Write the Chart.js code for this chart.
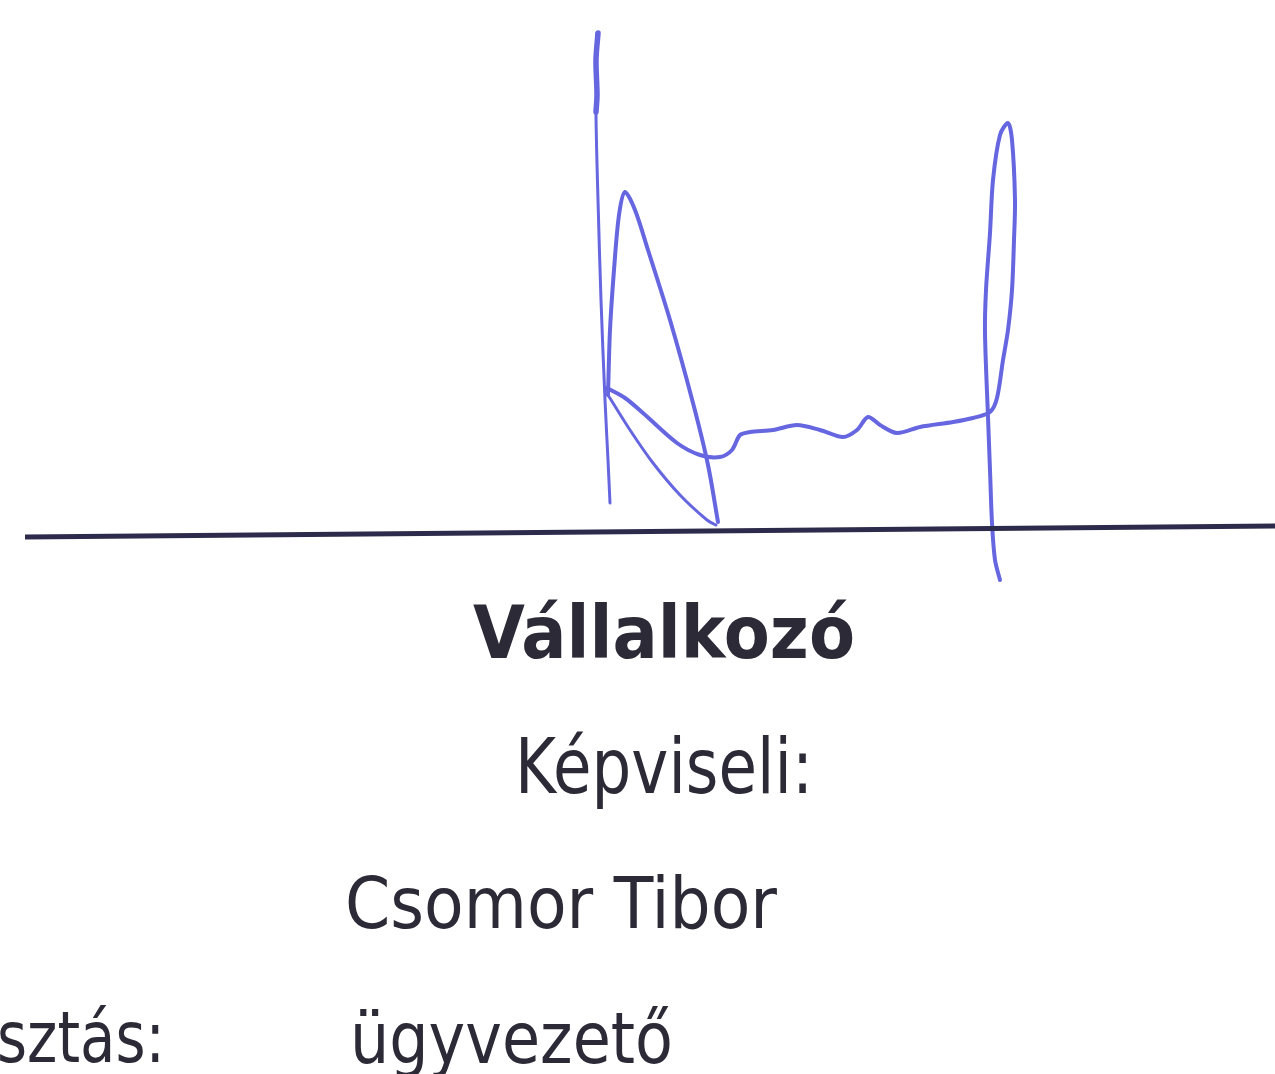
<!DOCTYPE html>
<html>
<head>
<meta charset="utf-8">
<script src="https://cdn.jsdelivr.net/npm/chart.js@4/dist/chart.umd.min.js"></script>
<style>
  html, body { margin: 0; padding: 0; background: #ffffff; overflow: hidden; }
  #wrap { position: relative; width: 1275px; height: 1074px; }
  #c { position: absolute; left: 0; top: 0; }
  .t { position: absolute; white-space: nowrap; line-height: 1; color: #2b2a36;
       font-family: "DejaVu Sans", Verdana, sans-serif; transform-origin: 0 0; }
</style>
</head>
<body>
<div id="wrap">
  <canvas id="c" width="1275" height="1074"></canvas>
</div>
<script>
// ---- data (page coordinates) ----
const signatureLine = [{x:25,y:537},{x:1275,y:526}];
const strokeStem = [{x:597,y:33},{x:596,y:60},{x:597,y:95},{x:596,y:115},{x:598,y:200},{x:601,y:300},{x:605,y:400},{x:608,y:460},{x:610,y:503}];
const strokeStemTop = [{x:598,y:33},{x:596,y:60},{x:597,y:95},{x:596,y:112}];
const strokePeak = [{x:608,y:395},{x:610,y:330},{x:614,y:270},{x:619,y:215},{x:625,y:192},{x:635,y:210},{x:648,y:250},{x:670,y:320},{x:693,y:403},{x:708,y:465},{x:718,y:522}];
const strokeDiagonal = [{x:608,y:395},{x:630,y:430},{x:653,y:463},{x:680,y:495},{x:707,y:520},{x:716,y:525}];
const strokeWave = [{x:607,y:388},{x:625,y:398},{x:643,y:413},{x:677,y:443},{x:700,y:455},{x:720,y:457},{x:732,y:450},{x:740,y:435},{x:750,y:432},{x:773,y:430},{x:797,y:425},{x:820,y:430},{x:843,y:437},{x:857,y:430},{x:868,y:417},{x:880,y:425},{x:897,y:433},{x:920,y:427},{x:953,y:422},{x:973,y:418},{x:990,y:412},{x:997,y:398},{x:1003,y:360},{x:1008,y:330},{x:1012,y:290},{x:1014,y:240},{x:1015,y:200},{x:1012,y:140},{x:1008,y:123},{x:1000,y:135},{x:993,y:180},{x:990,y:233},{x:986,y:290},{x:985,y:333},{x:988,y:417},{x:990,y:470},{x:992,y:523},{x:995,y:560},{x:1000,y:580}];

const labels = ["Vállalkozó", "Képviseli:", "Csomor Tibor", "sztás:", "ügyvezető"];
const labelBold = [true, false, false, false, false];

// ---- layout of the text (style, not data) ----
const labelLayout = [
  {x:473, base:658, w:382, size:73},
  {x:515, base:793, w:298, size:76},
  {x:345, base:928, w:432, size:72},
  {x:-3,  base:1062, w:168, size:72},
  {x:350, base:1063, w:323, size:72}
];

const ink = '#6666e0';
const sig = (data, width) => ({
  data, showLine: true, borderColor: ink, borderWidth: width,
  pointRadius: 0, tension: 0.3, fill: false, borderCapStyle: 'round', borderJoinStyle: 'round'
});

new Chart(document.getElementById('c'), {
  type: 'scatter',
  data: {
    datasets: [
      {data: signatureLine, showLine: true, borderColor: '#2d2b4c', borderWidth: 5, pointRadius: 0, tension: 0},
      sig(strokeStem, 3),
      sig(strokeStemTop, 5.5),
      sig(strokePeak, 4),
      sig(strokeDiagonal, 3),
      sig(strokeWave, 4)
    ]
  },
  options: {
    responsive: false,
    animation: false,
    devicePixelRatio: 1,
    layout: {padding: 0},
    plugins: {legend: {display: false}, tooltip: {enabled: false}},
    scales: {
      x: {type: 'linear', min: 0, max: 1275, display: false},
      y: {type: 'linear', min: 0, max: 1074, reverse: true, display: false}
    }
  }
});

const wrap = document.getElementById('wrap');
labels.forEach((txt, i) => {
  const L = labelLayout[i];
  const el = document.createElement('div');
  el.className = 't';
  el.textContent = txt;
  el.style.fontSize = L.size + 'px';
  el.style.fontWeight = labelBold[i] ? 'bold' : 'normal';
  el.style.left = L.x + 'px';
  el.style.top = (L.base - 0.846 * L.size) + 'px';
  wrap.appendChild(el);
  const w = el.getBoundingClientRect().width;
  el.style.transform = 'scaleX(' + (L.w / w) + ')';
});
</script>
</body>
</html>
